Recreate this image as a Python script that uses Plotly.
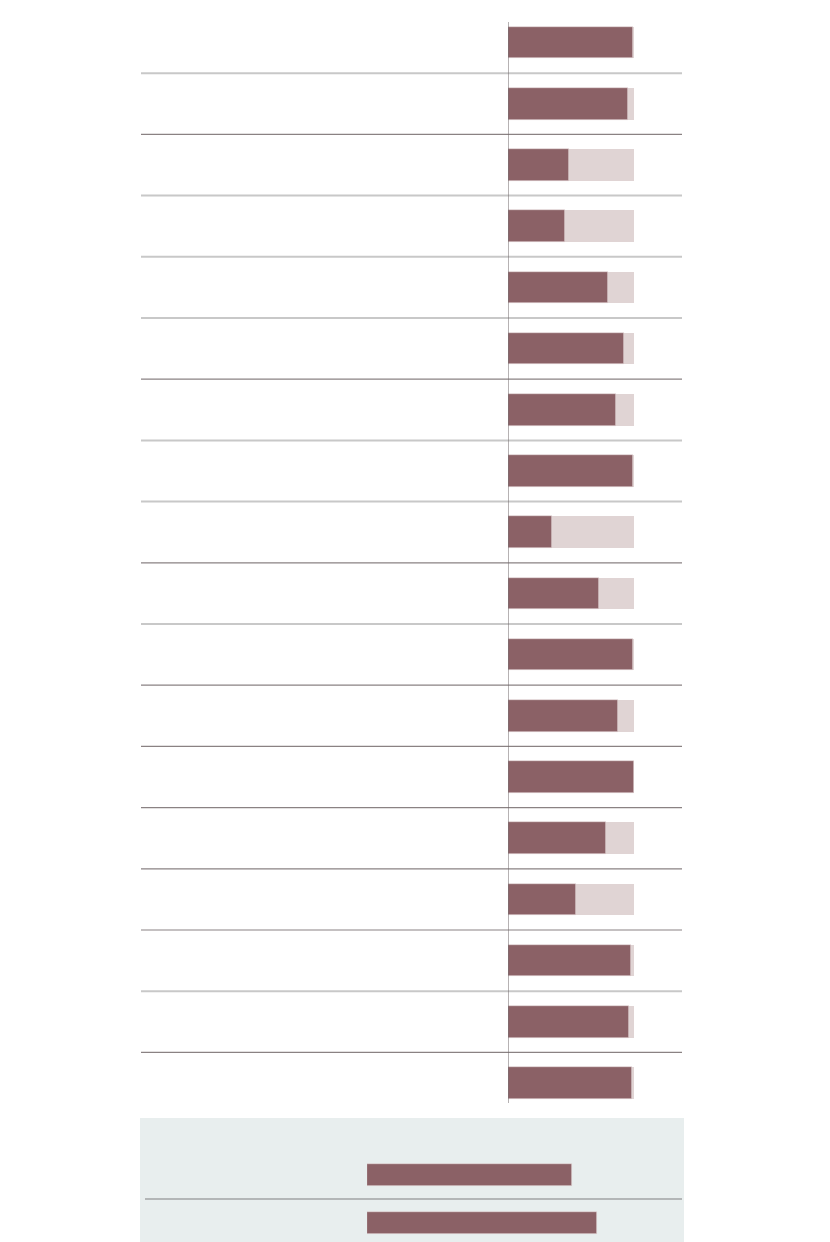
import plotly.graph_objects as go

W, H = 830, 1242
OFF = 8  # page body margin in the browser

# Main panel data (share, 0..1), 18 rows top to bottom
row_ids = list(range(18))
share_values = [0.99, 0.952, 0.484, 0.452, 0.794, 0.921, 0.857, 0.99, 0.349,
                0.722, 0.99, 0.873, 1.0, 0.778, 0.540, 0.976, 0.960, 0.984]
full_values = [1.0] * 18

# Bottom panel data
summary_ids = [0, 1]
summary_values = [0.813, 0.913]

# Divider styles between rows (light / dark)
divider_kinds = ["light", "dark", "light", "light", "light", "dark", "light", "light",
                 "dark", "light", "dark", "dark", "dark", "dark", "dark", "light", "dark"]

DARK = "#8B6166"
LIGHT = "#E0D4D4"
PANEL = "#E8EEEE"


def px(x):
    return (x - OFF) / W


def py(y):
    return 1 - (y - OFF) / H


fig = go.Figure()

fig.add_trace(go.Bar(x=full_values, y=row_ids, orientation="h", width=0.515,
                     marker=dict(color=LIGHT, line=dict(width=0)),
                     xaxis="x", yaxis="y", hoverinfo="skip", showlegend=False))
fig.add_trace(go.Bar(x=share_values, y=row_ids, orientation="h", width=0.515,
                     marker=dict(color=DARK, line=dict(width=0.6, color="#EADDDD")),
                     xaxis="x", yaxis="y", showlegend=False))
fig.add_trace(go.Bar(x=summary_values, y=summary_ids, orientation="h", width=0.458,
                     marker=dict(color=DARK, line=dict(width=0.6, color="#EADDDD")),
                     xaxis="x2", yaxis="y2", showlegend=False))

# main rows: first centre at 42.6 px, pitch 61.2 px
row_pitch = 61.2
first_c = 42.6
top_px = first_c - row_pitch / 2
bot_px = first_c + 17.5 * row_pitch

shapes = []
# bottom panel background
shapes.append(dict(type="rect", xref="paper", yref="paper",
                   x0=px(140), x1=px(684), y0=0, y1=py(1118),
                   fillcolor=PANEL, line=dict(width=0), layer="below"))
# row dividers
for i, kind in enumerate(divider_kinds):
    color = "#C8C8C8" if kind == "light" else "#8A8283"
    width = 2 if kind == "light" else 1.2
    shapes.append(dict(type="line", xref="paper", yref="y",
                       x0=px(141), x1=px(682), y0=i + 0.5, y1=i + 0.5,
                       line=dict(color=color, width=width), layer="below"))
# vertical baseline
shapes.append(dict(type="line", xref="x", yref="y", x0=0, x1=0,
                   y0=(22 - first_c) / row_pitch, y1=(1103 - first_c) / row_pitch,
                   line=dict(color="#6E6668", width=1)))
# bottom divider
shapes.append(dict(type="line", xref="paper", yref="y2",
                   x0=px(145), x1=px(682), y0=0.5, y1=0.5,
                   line=dict(color="#7F7F80", width=1.2)))

# bottom panel rows: centres at 1175 and 1223 (pitch 48)
b_pitch = 48
b_top = 1175 - b_pitch / 2
b_bot_px = H + OFF  # bottom of figure in page pixels
fig.update_layout(
    width=W, height=H,
    margin=dict(l=0, r=0, t=0, b=0),
    paper_bgcolor="white", plot_bgcolor="rgba(0,0,0,0)",
    barmode="overlay", bargap=0,
    shapes=shapes,
    xaxis=dict(domain=[px(508), px(634)], range=[0, 1], visible=False, fixedrange=True),
    yaxis=dict(domain=[py(bot_px), py(top_px)], range=[17.5, -0.5],
               visible=False, fixedrange=True),
    xaxis2=dict(domain=[px(367), px(619)], range=[0, 1], visible=False, anchor="y2"),
    yaxis2=dict(domain=[0, py(b_top)], range=[(b_bot_px - 1175) / b_pitch, -0.5],
                visible=False, anchor="x2"),
)

fig.write_html("out.html")
